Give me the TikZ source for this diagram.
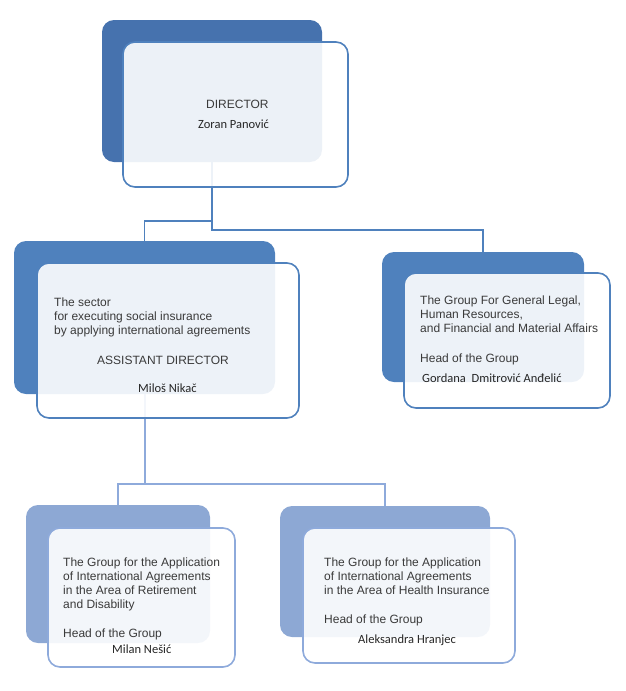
\documentclass[tikz,border=0pt]{standalone}
\usepackage{fontspec}
\setmainfont{Liberation Sans}
\newfontfamily\namefont{Carlito}
\usetikzlibrary{positioning,backgrounds}
\definecolor{topblue}{HTML}{4672AE}
\definecolor{midblue}{HTML}{4F81BD}
\definecolor{lowblue}{HTML}{8DA8D4}
\definecolor{lowline}{HTML}{8EAADB}
\definecolor{ink}{HTML}{3A3A3A}

\begin{document}
\begin{tikzpicture}[x=1pt,y=-1pt,font=\fontsize{12}{14}\selectfont,text=ink]
\tikzstyle{back}=[rounded corners=12pt,inner sep=0pt]
\tikzstyle{card}=[draw,line width=1.6pt,rounded corners=12pt,fill=white,fill opacity=0.9,inner sep=0pt]
\tikzstyle{txt}=[anchor=base west,align=left,inner sep=0pt]
\tikzstyle{who}=[anchor=base west,inner sep=0pt,font=\namefont\fontsize{12.5}{14}\selectfont,text=black!85]
\tikzstyle{link}=[draw=midblue,line width=1.8pt]
\tikzstyle{sublink}=[draw=lowline,line width=2pt]
\useasboundingbox (0,0) rectangle (625,691);
\node[back,fill=topblue,minimum width=220pt,minimum height=142pt] (dirback) at (212,91) {};
\node[card,draw=midblue,minimum width=225pt,minimum height=145pt] (dir) at (235.5,114.5) {};
\node[back,fill=midblue,minimum width=261pt,minimum height=153pt] (asback) at (144.5,317.5) {};
\node[card,draw=midblue,minimum width=262pt,minimum height=155pt] (asd) at (168,340.5) {};
\node[back,fill=midblue,minimum width=202pt,minimum height=130pt] (grpback) at (483,317) {};
\node[card,draw=midblue,minimum width=206pt,minimum height=135pt] (grp) at (507,340.5) {};
\node[back,fill=lowblue,minimum width=184pt,minimum height=138pt] (retback) at (118,574) {};
\node[card,draw=lowline,minimum width=187pt,minimum height=139pt] (ret) at (141.5,597.5) {};
\node[back,fill=lowblue,minimum width=210pt,minimum height=131pt] (heaback) at (385,571.5) {};
\node[card,draw=lowline,minimum width=212pt,minimum height=135pt] (hea) at (409,595.5) {};
\node[txt] (dirtitle) at (206,108) {DIRECTOR};
\node[who] (dirname) at (198,128) {Zoran Panović};
\node[txt] (asdtext) at (54,334) {The sector\\for executing social insurance\\by applying international agreements};
\node[txt] (asdtitle) at (97,364) {ASSISTANT DIRECTOR};
\node[who] (asdname) at (138,392) {Miloš Nikač};
\node[txt] (grptext) at (420,332) {The Group For General Legal,\\Human Resources,\\and Financial and Material Affairs};
\node[txt] (grphead) at (420,362) {Head of the Group};
\node[who] (grpname) at (422,382) {Gordana\ \ Dmitrović Anđelić};
\node[txt] (rettext) at (63,608) {The Group for the Application\\of International Agreements\\in the Area of Retirement\\and Disability};
\node[txt] (rethead) at (63,637) {Head of the Group};
\node[who] (retname) at (112,653) {Milan Nešić};
\node[txt] (heatext) at (324,594) {The Group for the Application\\of International Agreements\\in the Area of Health Insurance};
\node[txt] (heahead) at (324,623) {Head of the Group};
\node[who] (heaname) at (358,643) {Aleksandra Hranjec};
\begin{scope}[on background layer]
\coordinate (split1) at (212,221);
\coordinate (split2) at (212,230);
\coordinate (split3) at (144.5,484);
\draw[link] (dirback.south) -- (split2) -| (grpback.north);
\draw[link] (split1) -| (asback.north);
\draw[sublink] (asback.south) -- (split3);
\draw[sublink] (retback.north) -- (retback.north |- split3) -- (heaback.north |- split3) -- (heaback.north);
\end{scope}
\end{tikzpicture}
\end{document}
